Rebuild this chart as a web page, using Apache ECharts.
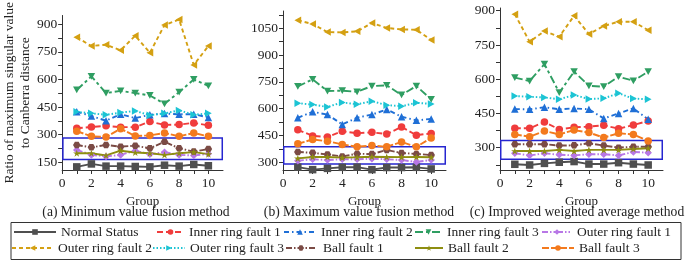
<!DOCTYPE html>
<html>
<head>
<meta charset="utf-8">
<script src="https://cdn.jsdelivr.net/npm/echarts@6/dist/echarts.min.js"></script>
<style>
html, body { margin: 0; padding: 0; background: #fff; }
#chart { width: 685px; height: 263px; }
</style>
</head>
<body>
<div id="chart"></div>
<script>
// x values
const groups = [1, 2, 3, 4, 5, 6, 7, 8, 9, 10]
const seriesNames = ['Normal Status', 'Inner ring fault 1', 'Inner ring fault 2', 'Inner ring fault 3', 'Outer ring fault 1',
  'Outer ring fault 2', 'Outer ring fault 3', 'Ball fault 1', 'Ball fault 2', 'Ball fault 3']
const captions = ['(a) Minimum value fusion method', '(b) Maximum value fusion method', '(c) Improved weighted average method']

// (a) minimum value fusion
const normalA = [125, 141, 129, 129, 127, 125, 134, 129, 138, 131]
const inner1A = [335, 342, 348, 341, 341, 371, 353, 355, 364, 351]
const inner2A = [425, 401, 376, 411, 390, 408, 415, 411, 411, 394]
const inner3A = [543, 617, 526, 538, 526, 513, 468, 531, 600, 565]
const outer1A = [217, 190, 182, 190, 213, 194, 205, 190, 187, 196]
const outer2A = [829, 782, 789, 759, 838, 745, 896, 926, 679, 782]
const outer3A = [424, 416, 408, 420, 429, 406, 416, 432, 408, 416]
const ball1A = [244, 231, 244, 235, 240, 226, 261, 226, 208, 222]
const ball2A = [199, 199, 187, 213, 203, 199, 190, 199, 205, 194]
const ball3A = [319, 291, 288, 332, 293, 296, 309, 291, 309, 291]

// (b) maximum value fusion
const normalB = [273, 259, 266, 272, 273, 259, 271, 271, 272, 263]
const inner1B = [482, 448, 442, 474, 463, 468, 458, 498, 452, 462]
const inner2B = [549, 583, 567, 512, 550, 567, 596, 555, 535, 543]
const inner3B = [725, 764, 699, 701, 695, 727, 731, 677, 727, 652]
const outer1B = [309, 317, 313, 317, 317, 320, 317, 313, 302, 313]
const outer2B = [1095, 1074, 1029, 1027, 1033, 1080, 1052, 1044, 1042, 985]
const outer3B = [631, 623, 610, 635, 625, 642, 620, 614, 633, 627]
const ball1B = [358, 353, 344, 333, 348, 346, 369, 352, 347, 341]
const ball2B = [322, 330, 330, 326, 328, 331, 330, 329, 330, 328]
const ball3B = [404, 428, 418, 400, 387, 394, 387, 414, 387, 436]

// (c) improved weighted average
const normalC = [227, 224, 231, 236, 239, 228, 228, 234, 228, 224]
const inner1C = [385, 385, 412, 380, 389, 392, 398, 383, 399, 417]
const inner2C = [469, 468, 477, 468, 472, 468, 428, 450, 472, 424]
const inner3C = [607, 592, 666, 541, 633, 571, 567, 611, 593, 633]
const outer1C = [275, 266, 275, 269, 266, 271, 271, 266, 281, 278]
const outer2C = [885, 764, 811, 786, 878, 798, 833, 852, 852, 815]
const outer3C = [526, 523, 520, 512, 531, 513, 516, 538, 515, 512]
const ball1C = [315, 315, 315, 309, 310, 319, 309, 300, 304, 304]
const ball2C = [285, 285, 285, 290, 285, 290, 290, 290, 294, 297]
const ball3C = [358, 348, 373, 358, 377, 366, 344, 363, 358, 329]

// highlighted band (y range) in each panel
const boxA = [165, 282]
const boxB = [290, 387]
const boxC = [249, 331]

// tick labels
const xLabels = [0, 2, 4, 6, 8, 10]
const yLabelsA = [150, 300, 450, 600, 750, 900]
const yLabelsB = [300, 450, 600, 750, 900, 1050]
const yLabelsC = [300, 450, 600, 750, 900]

const panelData = [
  [normalA, inner1A, inner2A, inner3A, outer1A, outer2A, outer3A, ball1A, ball2A, ball3A],
  [normalB, inner1B, inner2B, inner3B, outer1B, outer2B, outer3B, ball1B, ball2B, ball3B],
  [normalC, inner1C, inner2C, inner3C, outer1C, outer2C, outer3C, ball1C, ball2C, ball3C]
]
const panelBox = [boxA, boxB, boxC]
const panelLabels = [yLabelsA, yLabelsB, yLabelsC]

// 样式
const FONT = 'Liberation Serif'
const styles = [
  { color: '#4f4f4f', dash: 'solid', symbol: 'rect' },
  { color: '#f03c3c', dash: [6, 3], symbol: 'circle' },
  { color: '#1f6fd6', dash: [5, 3, 1.5, 3], symbol: 'triangle' },
  { color: '#2f9e62', dash: [8, 3, 3, 3], symbol: 'path://M0,0L10,0L5,9Z' },
  { color: '#b877e6', dash: [6, 2, 1.5, 2, 1.5, 2], symbol: 'diamond' },
  { color: '#d4a012', dash: [4, 3], symbol: 'path://M0,5L9,0L9,10Z' },
  { color: '#1cc4d4', dash: [1.5, 2], symbol: 'path://M0,0L9,5L0,10Z' },
  { color: '#7b4b45', dash: [6, 2, 1.5, 2], symbol: 'path://M2.5,0L7.5,0L10,4.33L7.5,8.66L2.5,8.66L0,4.33Z' },
  { color: '#8e8e10', dash: 'solid', symbol: 'path://M5,0L6.2,3.6L10,3.6L6.9,5.8L8.1,9.5L5,7.2L1.9,9.5L3.1,5.8L0,3.6L3.8,3.6Z' },
  { color: '#f37a1e', dash: [7, 2], symbol: 'circle' }
]

const grids = [
  { left: 60, top: 11, width: 163, height: 159 },
  { left: 283, top: 11, width: 163, height: 159 },
  { left: 500, top: 8, width: 163, height: 162 }
]
const yRanges = [[108, 948], [257, 1147], [202, 912]]

function halfTicks(labels, min, max) {
  const out = []
  for (let v = labels[0] - 150; v <= max; v += 75) {
    if (v >= min) out.push(v)
  }
  return out
}

const axisColor = '#333'
const xAxes = grids.map((g, i) => ({
  gridIndex: i,
  type: 'value',
  min: 0,
  max: 11,
  name: 'Group',
  nameLocation: 'middle',
  nameGap: 19,
  nameTextStyle: { fontFamily: FONT, fontSize: 13, color: '#222' },
  axisLine: { onZero: false, lineStyle: { color: axisColor, width: 1 } },
  axisTick: { length: 4, lineStyle: { color: axisColor }, customValues: [0, 1, 2, 3, 4, 5, 6, 7, 8, 9, 10] },
  axisLabel: { customValues: xLabels, margin: 6, fontFamily: FONT, fontSize: 13.5, color: '#222' },
  splitLine: { show: false }
}))

const yAxes = grids.map((g, i) => ({
  gridIndex: i,
  type: 'value',
  min: yRanges[i][0],
  max: yRanges[i][1],
  name: i === 0 ? 'Ratio of maximum singular value\nto Canberra distance' : '',
  nameLocation: 'middle',
  nameGap: 26,
  nameTextStyle: { fontFamily: FONT, fontSize: 13.5, color: '#222', lineHeight: 16 },
  axisLine: { show: true, lineStyle: { color: axisColor, width: 1 } },
  axisTick: { show: true, length: 4, lineStyle: { color: axisColor }, customValues: halfTicks(panelLabels[i], yRanges[i][0], yRanges[i][1]) },
  axisLabel: {
    customValues: panelLabels[i],
    formatter: (v) => String(v),
    margin: 5,
    fontFamily: FONT,
    fontSize: 13.5,
    color: '#222'
  },
  splitLine: { show: false }
}))

const series = []
panelData.forEach((rows, p) => {
  rows.forEach((vals, s) => {
    const st = styles[s]
    const item = {
      name: seriesNames[s],
      type: 'line',
      xAxisIndex: p,
      yAxisIndex: p,
      data: groups.map((g, k) => [g, vals[k]]),
      symbol: st.symbol,
      symbolSize: 7.5,
      symbolKeepAspect: true,
      showAllSymbol: true,
      lineStyle: { color: st.color, width: 1.9, type: st.dash },
      itemStyle: { color: st.color, borderWidth: 0 },
      emphasis: { disabled: true },
      animation: false
    }
    if (s === 0) {
      item.markArea = {
        silent: true,
        itemStyle: { color: 'rgba(0,0,0,0)', borderColor: '#2626d0', borderWidth: 1.5 },
        data: [[{ coord: [0.05, panelBox[p][0]] }, { coord: [10.95, panelBox[p][1]] }]]
      }
    }
    series.push(item)
  })
})

// 图例: 两行五列
const legendPos = [
  { left: 13, top: 225, w: 42 },
  { left: 156, top: 225, w: 27 },
  { left: 283, top: 225, w: 32 },
  { left: 414, top: 225, w: 27 },
  { left: 541, top: 225, w: 30 },
  { left: 11, top: 241, w: 41 },
  { left: 152, top: 241, w: 32 },
  { left: 285, top: 241, w: 30, pad: 2 },
  { left: 414, top: 241, w: 28 },
  { left: 541, top: 241, w: 32 }
]
const legends = legendPos.map((lp, i) => ({
  data: [seriesNames[i]],
  left: lp.left,
  top: lp.top,
  itemWidth: lp.w,
  itemHeight: 7,
  padding: 0,
  selectedMode: false,
  textStyle: { fontFamily: FONT, fontSize: 13.5, color: '#222', padding: [0, 0, 0, lp.pad || 0] }
}))

const captionX = [136, 359, 577]
const graphics = captions.map((t, i) => ({
  type: 'text',
  x: captionX[i],
  y: 212,
  style: { text: t, fontFamily: FONT, fontSize: 13.6, fill: '#222', align: 'center', verticalAlign: 'middle' }
}))
graphics.push({
  type: 'rect',
  shape: { x: 11, y: 222.5, width: 670, height: 37 },
  style: { fill: 'none', stroke: '#333', lineWidth: 1 }
})

const chart = echarts.init(document.getElementById('chart'))
chart.setOption({
  animation: false,
  grid: grids,
  xAxis: xAxes,
  yAxis: yAxes,
  legend: legends,
  graphic: graphics,
  series: series
})
</script>
</body>
</html>
